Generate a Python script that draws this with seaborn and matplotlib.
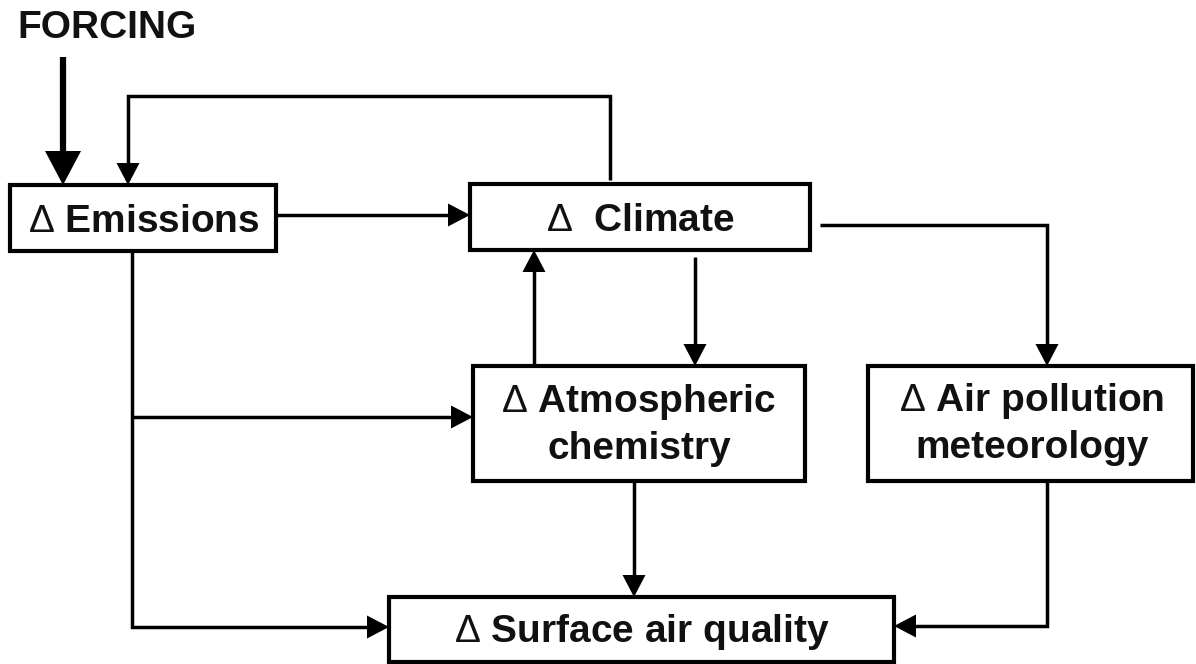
import matplotlib.pyplot as plt
import seaborn as sns
import numpy as np

# --- labels of the flowchart ---
TITLE = "FORCING"
NODE_KEYS = ["emissions", "climate", "chemistry", "meteorology", "surface"]
NODE_LINES = [
    ["Emissions"],
    [" Climate"],
    ["Atmospheric", "chemistry"],
    ["Air pollution", "meteorology"],
    ["Surface air quality"],
]

# --- layout (pixel coords, y down) ---
BOXES = {
    "emissions": (10, 185, 276, 251),
    "climate": (470, 184, 810, 250),
    "chemistry": (473, 366, 805, 481),
    "meteorology": (868, 366, 1193, 481),
    "surface": (389, 597, 894, 662),
}
TEXT_X = {"emissions": 144, "climate": 640, "chemistry": 639,
          "meteorology": 1032, "surface": 642}
BASELINES = {"emissions": [232], "climate": [231], "chemistry": [412, 459],
             "meteorology": [411, 458], "surface": [642]}

# connectors: polyline points, arrow at the last point
EDGES = [
    [(610, 180), (610, 96), (128, 96), (128, 185)],   # climate -> emissions
    [(276, 215), (470, 215)],                          # emissions -> climate
    [(820, 225), (1047, 225), (1047, 366)],            # climate -> meteorology
    [(695, 257), (695, 366)],                          # climate -> chemistry
    [(534, 366), (534, 250)],                          # chemistry -> climate
    [(132, 251), (132, 627), (389, 627)],              # emissions -> surface
    [(132, 417), (473, 417)],                          # emissions -> chemistry
    [(634, 481), (634, 597)],                          # chemistry -> surface
    [(1047, 481), (1047, 626), (894, 626)],            # meteorology -> surface
]
FORCING_ARROW = [(63, 57), (63, 185)]

sns.set_theme(style="white")
plt.rcParams['font.family'] = ['Liberation Sans', 'DejaVu Sans']
plt.rcParams['mathtext.fontset'] = 'custom'
plt.rcParams['mathtext.rm'] = 'Liberation Sans'
plt.rcParams['mathtext.it'] = 'Liberation Sans:italic'
plt.rcParams['mathtext.bf'] = 'Liberation Sans:bold'

W, H = 1196, 664
FS = 28


def draw_arrow(ax, pts, lw, head_len, head_w):
    pts = np.array(pts, dtype=float)
    tip = pts[-1]
    d = tip - pts[-2]
    d = d / np.linalg.norm(d)
    base = tip - d * head_len
    line = np.vstack([pts[:-1], base + d * 1.0])
    ax.plot(line[:, 0], line[:, 1], color='black', lw=lw,
            solid_capstyle='butt', solid_joinstyle='miter')
    n = np.array([-d[1], d[0]])
    tri = np.array([tip, base + n * head_w / 2, base - n * head_w / 2])
    ax.fill(tri[:, 0], tri[:, 1], color='black', lw=0)


fig = plt.figure(figsize=(W / 100, H / 100), dpi=100)
ax = fig.add_axes([0, 0, 1, 1])
ax.set_xlim(0, W)
ax.set_ylim(H, 0)
ax.axis('off')

# boxes + labels
for key, lines in zip(NODE_KEYS, NODE_LINES):
    x0, y0, x1, y1 = BOXES[key]
    ax.add_patch(plt.Rectangle((x0, y0), x1 - x0, y1 - y0, fill=False,
                               ec='black', lw=3, joinstyle='miter'))
    for i, (txt, yb) in enumerate(zip(lines, BASELINES[key])):
        s = (r"$\Delta$ " + txt) if i == 0 else txt
        ax.text(TEXT_X[key], yb, s, ha='center', va='baseline',
                fontsize=FS, fontweight='bold', color='#111111')

# connectors
for e in EDGES:
    draw_arrow(ax, e, lw=2.5, head_len=22, head_w=23)
draw_arrow(ax, FORCING_ARROW, lw=4.5, head_len=34, head_w=36)

ax.text(107, 38, TITLE, ha='center', va='baseline', fontsize=FS,
        fontweight='bold', color='#111111')

fig.savefig("out.png", dpi=100, facecolor='white')
